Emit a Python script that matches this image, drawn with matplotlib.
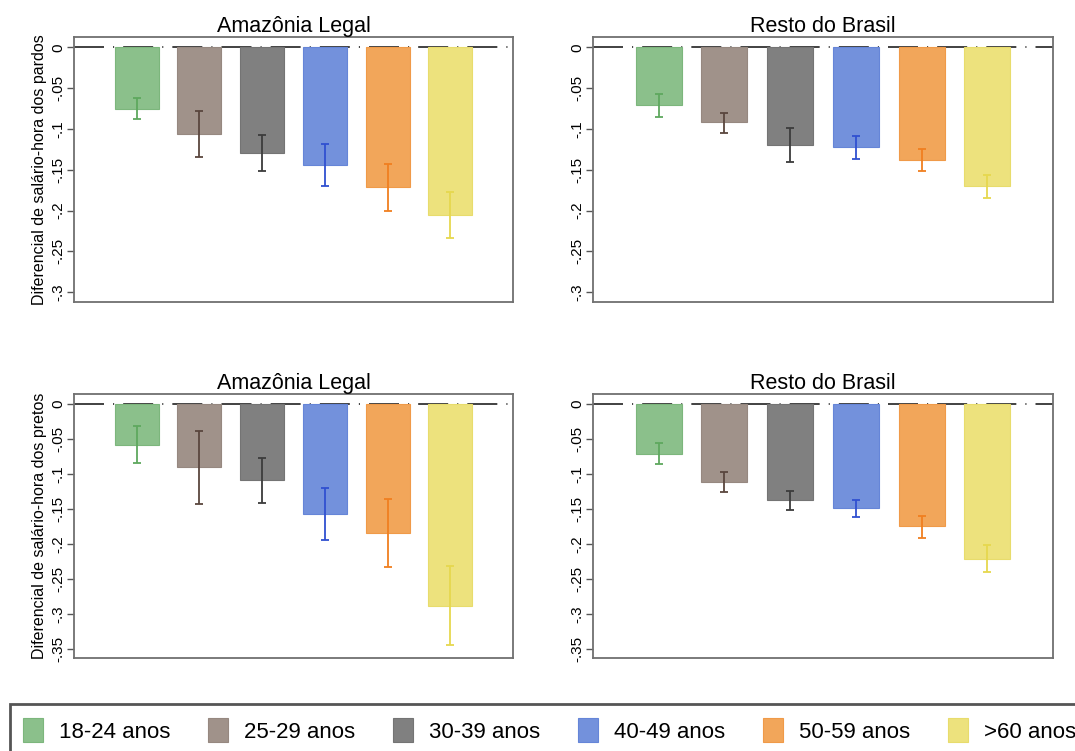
import numpy as np
import matplotlib
matplotlib.use("Agg")
import matplotlib.pyplot as plt
from matplotlib.patches import Patch, Rectangle

plt.rcParams['font.family'] = ['Liberation Sans', 'DejaVu Sans']
plt.rcParams['lines.scale_dashes'] = False

categorias = ['18-24 anos', '25-29 anos', '30-39 anos', '40-49 anos', '50-59 anos', '>60 anos']

# pardos - Amazonia Legal
pardos_amaz = [-0.075, -0.106, -0.129, -0.144, -0.171, -0.205]
pardos_amaz_lo = [-0.088, -0.134, -0.151, -0.170, -0.200, -0.233]
pardos_amaz_hi = [-0.0615, -0.0775, -0.107, -0.118, -0.143, -0.1775]
# pardos - Resto do Brasil
pardos_resto = [-0.071, -0.092, -0.120, -0.122, -0.138, -0.170]
pardos_resto_lo = [-0.085, -0.1045, -0.141, -0.137, -0.152, -0.184]
pardos_resto_hi = [-0.0566, -0.080, -0.099, -0.108, -0.124, -0.157]
# pretos - Amazonia Legal
pretos_amaz = [-0.058, -0.0905, -0.109, -0.157, -0.184, -0.288]
pretos_amaz_lo = [-0.085, -0.143, -0.142, -0.195, -0.233, -0.344]
pretos_amaz_hi = [-0.031, -0.038, -0.0767, -0.120, -0.136, -0.232]
# pretos - Resto do Brasil
pretos_resto = [-0.0714, -0.111, -0.1376, -0.149, -0.175, -0.221]
pretos_resto_lo = [-0.0857, -0.126, -0.152, -0.162, -0.191, -0.240]
pretos_resto_hi = [-0.056, -0.097, -0.124, -0.137, -0.160, -0.202]

cores = ['#8bc08b', '#a0928a', '#808080', '#7391dc', '#f2a65a', '#ede27d']
bordas = ['#7cb67c', '#968880', '#747474', '#6585d8', '#f09a48', '#e8dc6c']
cores_err = ['#5ea85e', '#5a463e', '#3c3c3c', '#3050d0', '#f07f20', '#e6d84e']

W, H = 1075, 751
fig = plt.figure(figsize=(W / 100, H / 100), dpi=100)


def fmt(v):
    if abs(v) < 1e-9:
        return '0'
    return ('%g' % v).replace('0.', '.')


def painel(rect, titulo, vals, lo, hi, ylim, ticks, ylabel=None):
    ax = fig.add_axes([rect[0] / W, 1 - rect[3] / H, (rect[2] - rect[0]) / W, (rect[3] - rect[1]) / H])
    x = np.arange(1, 7)
    ax.plot([0, 7], [0, 0], color='#333333', lw=1.3, dashes=(21.6, 6.5, 0.8, 6.5), zorder=1)
    for i in range(6):
        ax.bar(x[i], vals[i], width=0.7, color=cores[i], edgecolor=bordas[i], lw=0.8, zorder=2)
        ax.errorbar(x[i], vals[i], yerr=[[vals[i] - lo[i]], [hi[i] - vals[i]]], fmt='none',
                    ecolor=cores_err[i], elinewidth=1.3, capsize=3, capthick=1.3, zorder=3)
    ax.set_xlim(0, 7)
    ax.set_ylim(*ylim)
    ax.set_xticks([])
    ax.set_yticks(ticks)
    ax.set_yticklabels([fmt(t) for t in ticks])
    ax.tick_params(axis='y', labelrotation=90, labelsize=11, length=5, width=1,
                   color='#555555', pad=1.5)
    for lab in ax.get_yticklabels():
        lab.set_va('center')
    for s in ax.spines.values():
        s.set_color('#707070')
        s.set_linewidth(1.3)
    ax.set_title(titulo, fontsize=15.5, pad=3)
    if ylabel:
        ax.set_ylabel(ylabel, fontsize=11.5)
        ax.yaxis.set_label_coords(-0.062, 0.5)
    return ax


t1 = [0, -0.05, -0.1, -0.15, -0.2, -0.25, -0.3]
t2 = [0, -0.05, -0.1, -0.15, -0.2, -0.25, -0.3, -0.35]
painel((74, 37, 513, 302), 'Amazônia Legal', pardos_amaz, pardos_amaz_lo, pardos_amaz_hi,
       (-0.312, 0.0127), t1, 'Diferencial de salário-hora dos pardos')
painel((593, 37, 1053, 302), 'Resto do Brasil', pardos_resto, pardos_resto_lo, pardos_resto_hi,
       (-0.312, 0.0127), t1)
painel((74, 394, 513, 658), 'Amazônia Legal', pretos_amaz, pretos_amaz_lo, pretos_amaz_hi,
       (-0.363, 0.0143), t2, 'Diferencial de salário-hora dos pretos')
painel((593, 394, 1053, 658), 'Resto do Brasil', pretos_resto, pretos_resto_lo, pretos_resto_hi,
       (-0.363, 0.0143), t2)

# legenda
handles = [Patch(facecolor=cores[i], edgecolor=bordas[i], lw=0.8) for i in range(6)]
fig.legend(handles, categorias, ncol=6, loc='center left', bbox_to_anchor=(22.6 / W, 1 - 730.5 / H),
           frameon=False, fontsize=16, handlelength=0.9, handleheight=1.26, handletextpad=0.72,
           columnspacing=1.71, borderpad=0, borderaxespad=0)
fig.patches.append(Rectangle((10 / W, -0.1), 1.2, 0.1 + 1 - 704 / H, transform=fig.transFigure,
                             fill=False, edgecolor='#555555', lw=2, clip_on=False))

fig.savefig('out.png', dpi=100)
